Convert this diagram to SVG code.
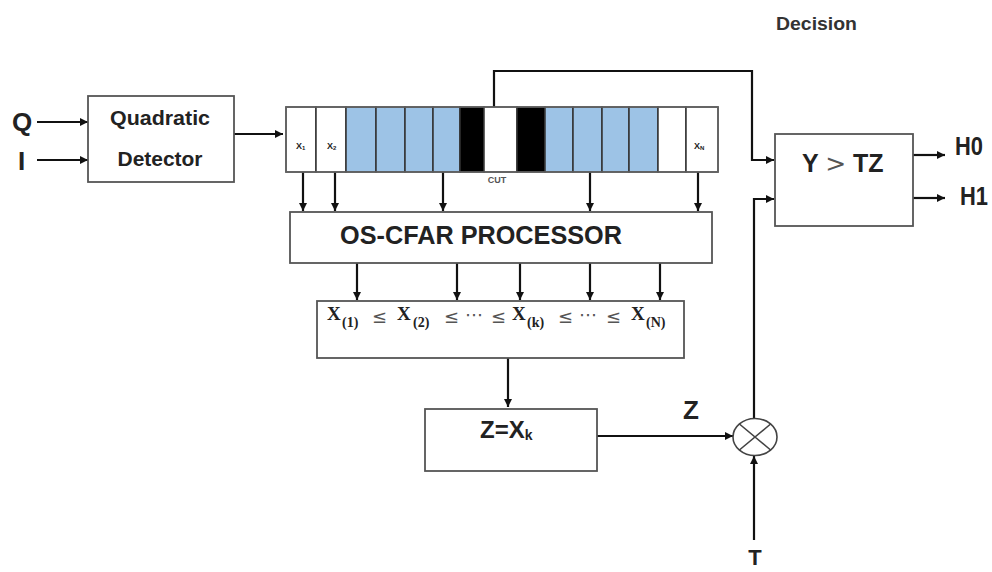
<svg xmlns="http://www.w3.org/2000/svg" width="992" height="572" viewBox="0 0 992 572">
<defs>
<marker id="ah" viewBox="0 0 10 10" refX="10" refY="5" markerWidth="10" markerHeight="8" markerUnits="userSpaceOnUse" orient="auto">
<path d="M0,0 L10,5 L0,10 z" fill="#111"/>
</marker>
</defs>
<style>
.box{fill:#fff;stroke:#555;stroke-width:1.8}
.cell{stroke:#333;stroke-width:1.5}
.w{fill:#fff}.b{fill:#9dc3e6}.k{fill:#000}
.ln{fill:none;stroke:#111;stroke-width:2.2}
.ar{fill:none;stroke:#111;stroke-width:2.2;marker-end:url(#ah)}
.t{font-family:"Liberation Sans",Arial,sans-serif;font-weight:bold;fill:#222}
.s{font-family:"Liberation Serif","Times New Roman",serif;font-weight:bold;fill:#222}
.g{font-family:"DejaVu Sans",sans-serif;fill:#555}
</style>
<rect width="992" height="572" fill="#fff"/>

<g id="connectors">
<path class="ar" d="M37,122 H88"/>
<path class="ar" d="M37,160 H88"/>
<path class="ar" d="M234,134 H283"/>
<path class="ar" d="M303,172 V211"/>
<path class="ar" d="M335,172 V211"/>
<path class="ar" d="M443,172 V211"/>
<path class="ar" d="M590,172 V211"/>
<path class="ar" d="M698,172 V211"/>
<path class="ar" d="M357,263 V300"/>
<path class="ar" d="M457,263 V300"/>
<path class="ar" d="M520,263 V300"/>
<path class="ar" d="M590,263 V300"/>
<path class="ar" d="M660,263 V300"/>
<path class="ar" d="M508,358 V407"/>
<path class="ar" d="M597,436 H733"/>
<path class="ar" d="M754,540 V456"/>
<path class="ar" d="M494,107 V71 H752 V160 H774"/>
<path class="ar" d="M754,419 V199 H774"/>
<path class="ar" d="M913,155 H945"/>
<path class="ar" d="M913,198 H945"/>
</g>

<g id="inputs">
<text class="t" x="12" y="131" font-size="26">Q</text>
<text class="t" x="18" y="170" font-size="26">I</text>
</g>

<g id="quadratic-detector">
<rect class="box" x="88" y="96" width="146" height="86"/>
<text class="t" x="160" y="125" font-size="20" text-anchor="middle" textLength="100" lengthAdjust="spacingAndGlyphs">Quadratic</text>
<text class="t" x="160" y="166" font-size="20" text-anchor="middle" textLength="85" lengthAdjust="spacingAndGlyphs">Detector</text>
</g>

<g id="register">
<rect class="cell w" x="286" y="107" width="30" height="65"/>
<rect class="cell w" x="316" y="107" width="30" height="65"/>
<rect class="cell b" x="346" y="107" width="30" height="65"/>
<rect class="cell b" x="376" y="107" width="29" height="65"/>
<rect class="cell b" x="405" y="107" width="28" height="65"/>
<rect class="cell b" x="433" y="107" width="27" height="65"/>
<rect class="cell k" x="460" y="107" width="24" height="65"/>
<rect class="cell w" x="484" y="107" width="33" height="65"/>
<rect class="cell k" x="517" y="107" width="28" height="65"/>
<rect class="cell b" x="545" y="107" width="28" height="65"/>
<rect class="cell b" x="573" y="107" width="29" height="65"/>
<rect class="cell b" x="602" y="107" width="27" height="65"/>
<rect class="cell b" x="629" y="107" width="29" height="65"/>
<rect class="cell w" x="658" y="107" width="28" height="65"/>
<rect class="cell w" x="686" y="107" width="32" height="65"/>
<rect x="286" y="107" width="432" height="65" fill="none" stroke="#666" stroke-width="1.5"/>
<text class="t" x="296" y="149" font-size="9" fill="#444">X<tspan font-size="6" dy="1">1</tspan></text>
<text class="t" x="327" y="149" font-size="9" fill="#444">X<tspan font-size="6" dy="1">2</tspan></text>
<text class="t" x="694" y="149" font-size="9" fill="#444">X<tspan font-size="6" dy="1">N</tspan></text>
<text class="t" x="497" y="183" font-size="9" text-anchor="middle" style="fill:#555">CUT</text>
</g>

<g id="os-cfar-processor">
<rect class="box" x="290" y="212" width="422" height="51"/>
<text class="t" x="340" y="244" font-size="25" textLength="282" lengthAdjust="spacingAndGlyphs">OS-CFAR PROCESSOR</text>
</g>

<g id="sorted">
<rect class="box" x="317" y="301" width="367" height="57"/>
<text class="s" x="327" y="320" font-size="19">X</text>
<text class="s" x="342" y="327" font-size="14">(1)</text>
<text class="g" x="372" y="323" font-size="18">≤</text>
<text class="s" x="397" y="320" font-size="19">X</text>
<text class="s" x="413" y="327" font-size="14">(2)</text>
<text class="g" x="444" y="323" font-size="18">≤</text>
<text class="g" x="465" y="321" font-size="18">⋯</text>
<text class="g" x="491" y="323" font-size="18">≤</text>
<text class="s" x="512" y="320" font-size="19">X</text>
<text class="s" x="527" y="327" font-size="14">(k)</text>
<text class="g" x="558" y="323" font-size="18">≤</text>
<text class="g" x="579" y="321" font-size="18">⋯</text>
<text class="g" x="606" y="323" font-size="18">≤</text>
<text class="s" x="631" y="320" font-size="19">X</text>
<text class="s" x="646" y="327" font-size="14">(N)</text>
</g>

<g id="z-box">
<rect class="box" x="425" y="409" width="172" height="62"/>
<text class="t" x="480" y="438" font-size="24">Z=X<tspan font-size="14" dy="2">k</tspan></text>
</g>

<g id="z-label">
<text class="t" x="683" y="419" font-size="26">Z</text>
</g>

<g id="multiplier">
<ellipse cx="755" cy="437" rx="22" ry="18.5" fill="#fff" stroke="#444" stroke-width="1.6"/>
<path d="M739.4,424 L770.6,450 M770.6,424 L739.4,450" stroke="#444" stroke-width="1.6"/>
</g>

<g id="t-label">
<text class="t" x="755" y="565" font-size="22" text-anchor="middle">T</text>
</g>

<g id="decision">
<text class="t" x="776" y="30" font-size="18" textLength="81" lengthAdjust="spacingAndGlyphs" style="fill:#333">Decision</text>
<rect class="box" x="775" y="134" width="138" height="92"/>
<text class="t" x="802" y="172" font-size="25">Y <tspan class="g" font-weight="normal" font-size="25">&gt;</tspan> TZ</text>
</g>

<g id="outputs">
<text class="t" x="955" y="155" font-size="26" textLength="28" lengthAdjust="spacingAndGlyphs">H0</text>
<text class="t" x="960" y="205" font-size="26" textLength="28" lengthAdjust="spacingAndGlyphs">H1</text>
</g>
</svg>
